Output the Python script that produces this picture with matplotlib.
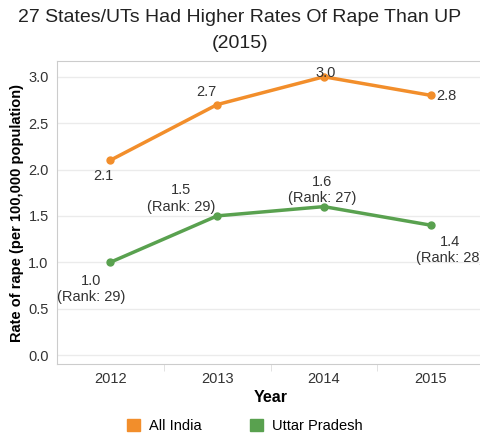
import matplotlib
matplotlib.use('Agg')
import matplotlib.pyplot as plt
from matplotlib.patches import Patch

plt.rcParams['font.family'] = ['Liberation Sans', 'DejaVu Sans']

years = ['2012', '2013', '2014', '2015']
all_india = [2.1, 2.7, 3.0, 2.8]
uttar_pradesh = [1.0, 1.5, 1.6, 1.4]
up_rank = [29, 29, 27, 28]

orange = '#F28E2B'
green = '#59A14F'
txt = '#333333'

fig = plt.figure(figsize=(4.8, 4.34), dpi=100)
ax = fig.add_axes([57/480, 1-364/434, 427/480, 303/434])

x = list(range(len(years)))
ax.plot(x, all_india, color=orange, lw=2.5, marker='o', ms=5, zorder=3)
ax.plot(x, uttar_pradesh, color=green, lw=2.5, marker='o', ms=5, zorder=3)

# label offsets (points), placed like the original
ai_off = [(-5, -11.5), (-8, 9), (1, 3), (11, -0.5)]
for i, v in enumerate(all_india):
    dx, dy = ai_off[i]
    ax.annotate(f'{v:.1f}', (x[i], v), xytext=(dx, dy), textcoords='offset points',
                ha='center', va='center', fontsize=10.5, color=txt, annotation_clip=False)

up_off = [(-14, -19), (-26, 12.5), (-1, 12), (14, -18)]
for i, v in enumerate(uttar_pradesh):
    dx, dy = up_off[i]
    ax.annotate(f'{v:.1f}\n(Rank: {up_rank[i]})', (x[i], v), xytext=(dx, dy),
                textcoords='offset points', ha='center', va='center',
                fontsize=10.5, color=txt, linespacing=1.2, annotation_clip=False)

ax.set_xlim(-0.5, 3.5)
ax.set_ylim(-0.097, 3.17)
ax.set_yticks([0, 0.5, 1.0, 1.5, 2.0, 2.5, 3.0])
ax.set_yticklabels(['0.0', '0.5', '1.0', '1.5', '2.0', '2.5', '3.0'])
ax.set_xticks(x)
ax.set_xticklabels(years)
ax.set_xticks([0.5, 1.5, 2.5], minor=True)
ax.tick_params(axis='both', which='major', length=0, labelsize=10.5, labelcolor=txt)
ax.tick_params(axis='x', which='major', pad=6)
ax.tick_params(axis='x', which='minor', length=5, color='#dddddd', direction='out')
ax.tick_params(axis='y', pad=6)
ax.grid(axis='y', color='#ebebeb', lw=1)
ax.set_axisbelow(True)

ax.spines['right'].set_visible(False)
for s in ['top', 'left', 'bottom']:
    ax.spines[s].set_color('#cccccc')

ax.set_xlabel('Year', fontsize=11.5, fontweight='bold', labelpad=3)
ax.set_ylabel('Rate of rape (per 100,000 population)', fontsize=10.5, fontweight='bold', labelpad=3)

fig.text(0.5, 0.93, '27 States/UTs Had Higher Rates Of Rape Than UP\n(2015)',
         ha='center', va='center', fontsize=14, color='#222222', linespacing=1.7)

handles = [Patch(color=orange, label='All India'), Patch(color=green, label='Uttar Pradesh')]
fig.legend(handles=handles, loc='center', bbox_to_anchor=(0.51, 0.018), ncol=2, frameon=False,
           fontsize=10.5, handlelength=0.9, handleheight=0.9, handletextpad=0.6, columnspacing=3.3)

fig.savefig('out.png', dpi=100)
